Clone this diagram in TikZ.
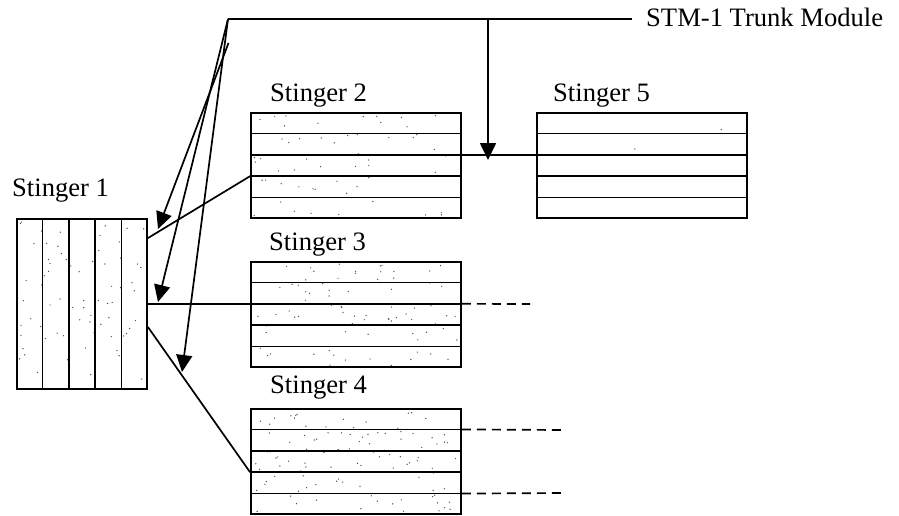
\documentclass[tikz,border=0pt]{standalone}
\usepackage{fontspec}
\setmainfont{Liberation Serif}
\usetikzlibrary{arrows.meta,calc}
\tikzset{
  stack/.style={draw, line width=1.9pt, inner sep=0pt, minimum width=210pt, minimum height=105pt},
  lbl/.style={anchor=base west, inner sep=0pt, font=\fontsize{26.6}{30}\selectfont},
  wire/.style={line width=1.7pt},
  feed/.style={wire, -{Triangle[length=17pt,width=16pt]}},
  stub/.style={line width=1.7pt, dash pattern=on 9pt off 6pt},
}
% sprinkle of fine dots over a card area: x0, y0, width, height, count
\newcommand\speckle[5]{\foreach \k in {1,...,#5}{\fill[black!70] ({#1+#3*rnd},{#2+#4*rnd}) circle (0.7pt);}}
% four horizontal slot lines inside a stinger
\newcommand\slots[1]{\foreach \i in {1,...,4}{\draw[line width=1.7pt] ($(#1.north west)!\i/5!(#1.south west)$) -- ($(#1.north east)!\i/5!(#1.south east)$);}}
\begin{document}
\begin{tikzpicture}[x=1pt,y=-1pt]
\useasboundingbox (0,0) rectangle (899,516);
\pgfmathsetseed{11}

% texture
\speckle{19}{221}{126}{166}{70}
\speckle{253}{115}{206}{101}{55}
\speckle{253}{264}{206}{102}{80}
\speckle{254}{411}{204}{101}{110}
\speckle{539}{115}{206}{101}{2}

% stingers
\node[draw, line width=1.9pt, inner sep=0pt, minimum width=130pt, minimum height=170pt] (s1) at (82,304) {};
\foreach \i in {1,...,4}{\draw[line width=1.7pt] ($(s1.north west)!\i/5!(s1.north east)$) -- ($(s1.south west)!\i/5!(s1.south east)$);}
\node[stack] (s2) at (356,165.5) {};
\slots{s2}
\node[stack] (s5) at (642,165.5) {};
\slots{s5}
\node[stack] (s3) at (356,314.5) {};
\slots{s3}
\node[stack] (s4) at (356,461.5) {};
\slots{s4}

% labels
\node[lbl] (l1) at (12,196) {Stinger 1};
\node[lbl] (l2) at (270,102) {Stinger 2};
\node[lbl] (l5) at (553,102) {Stinger 5};
\node[lbl] (l3) at (269,250) {Stinger 3};
\node[lbl] (l4) at (270,393) {Stinger 4};
\node[lbl] (stm) at (646,27) {STM-1 Trunk Module};

% trunk bus
\coordinate (apex) at (228,19);
\coordinate (apex2) at (228.5,43);
\coordinate (trunkend) at (632,19);
\coordinate (drop) at (488,19);
\coordinate (droptip) at (488,160);
\coordinate (t1) at (158,229);
\coordinate (t2) at (158,302);
\coordinate (t3) at (182,372);
\coordinate (s3out) at (530,304);
\coordinate (s4outa) at (563,430);
\coordinate (s4outb) at (563,493);

\draw[wire] (apex) -- (trunkend);
\draw[feed] (drop) -- (droptip);
\draw[feed] (apex2) -- (t1);
\draw[feed] (apex) -- (t2);
\draw[feed] (apex) -- (t3);

% links between stingers
\draw[wire] ([yshift=-20pt]s1.north east) -- ($(s2.north west)!3/5!(s2.south west)$);
\draw[wire] ($(s2.north east)!2/5!(s2.south east)$) -- ($(s5.north west)!2/5!(s5.south west)$);
\draw[wire] (s1.east) -- (s1.east -| s3.west);
\draw[stub] ($(s3.north east)!2/5!(s3.south east)$) -- (s3out);
\draw[wire] ([yshift=-109pt]s1.north east) -- ($(s4.north west)!3/5!(s4.south west)$);
\draw[stub] ($(s4.north east)!1/5!(s4.south east)$) -- (s4outa);
\draw[stub] ($(s4.north east)!4/5!(s4.south east)$) -- (s4outb);
\end{tikzpicture}
\end{document}
